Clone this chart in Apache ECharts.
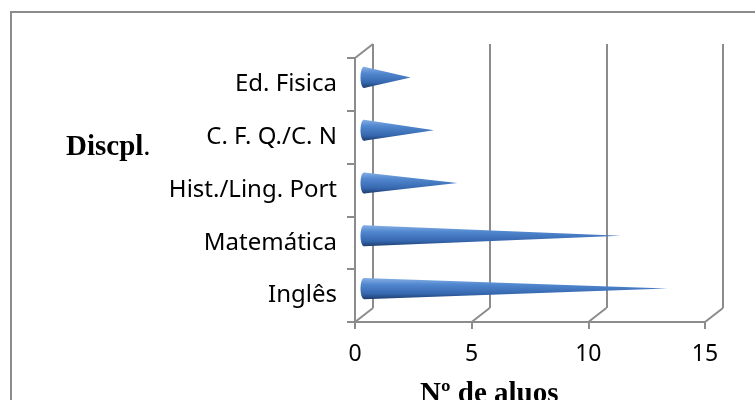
<!DOCTYPE html>
<html>
<head>
<meta charset="utf-8">
<script src="https://cdn.jsdelivr.net/npm/echarts@6/dist/echarts.min.js"></script>
<style>
  html, body { margin: 0; padding: 0; background: #fff; }
  #chart { width: 755px; height: 400px; }
</style>
</head>
<body>
<div id="chart"></div>
<script>
// disciplinas (de baixo para cima) e número de alunos
const disciplinas = ["Inglês", "Matemática", "Hist./Ling. Port", "C. F. Q./C. N", "Ed. Fisica"];
const alunos = [13, 11, 4, 3, 2];
const xTicks = [0, 5, 10, 15];

const axisGray = "#8c8c8c";
const depth = [18, -14]; // deslocamento da parede de trás

let myChart = echarts.init(document.getElementById("chart"));

// cone horizontal: base elíptica à esquerda, ponta à direita
function renderCone(params, api) {
  const idx = api.value(1);
  const base = api.coord([0, idx]);
  const tip = api.coord([api.value(0), idx]);
  const r = api.size([0, 1])[1] * 0.2;
  const bx = base[0] + depth[0] / 2;
  const cy = base[1] + depth[1] / 2;
  const tx = tip[0] + depth[0] / 2;
  const fill = new echarts.graphic.LinearGradient(0, 0, 0, 1, [
    { offset: 0, color: "#86afe4" },
    { offset: 0.3, color: "#5288d0" },
    { offset: 0.75, color: "#3567ae" },
    { offset: 1, color: "#1d3c6c" },
  ]);
  return {
    type: "group",
    children: [
      {
        type: "polygon",
        shape: { points: [[bx, cy - r], [tx, cy], [bx, cy + r]] },
        style: { fill: fill },
      },
      {
        type: "ellipse",
        shape: { cx: bx, cy: cy, rx: 3.5, ry: r },
        style: { fill: fill },
      },
    ],
  };
}

// linhas diagonais do "chão" e do canto superior esquerdo
function renderFloor(params, api) {
  const v = api.value(0);
  const cs = params.coordSys;
  const x = api.coord([v, 0])[0];
  const yb = cs.y + cs.height;
  const children = [
    {
      type: "line",
      shape: { x1: x, y1: yb, x2: x + depth[0], y2: yb + depth[1] },
      style: { stroke: axisGray, lineWidth: 2 },
    },
  ];
  if (v === 0) {
    children.push({
      type: "line",
      shape: { x1: x, y1: cs.y, x2: x + depth[0], y2: cs.y + depth[1] },
      style: { stroke: axisGray, lineWidth: 2 },
    });
  }
  return { type: "group", children: children };
}

myChart.setOption({
  animation: false,
  textStyle: { fontFamily: "Noto Sans" },
  grid: [
    { left: 355, top: 58, width: 350, height: 264 },
    { left: 373, top: 44, width: 350, height: 264 },
  ],
  xAxis: [
    {
      type: "value",
      gridIndex: 0,
      min: 0,
      max: 15,
      interval: 5,
      axisLine: { show: true, lineStyle: { color: axisGray, width: 2 } },
      axisTick: { show: true, length: 7, lineStyle: { color: axisGray, width: 2 } },
      splitLine: { show: false },
      axisLabel: { color: "#000", fontSize: 23, margin: 21 },
    },
    {
      type: "value",
      gridIndex: 1,
      min: 0,
      max: 15,
      interval: 5,
      axisLine: { show: false },
      axisTick: { show: false },
      axisLabel: { show: false },
      splitLine: { show: true, lineStyle: { color: axisGray, width: 2 } },
    },
  ],
  yAxis: [
    {
      type: "category",
      gridIndex: 0,
      data: disciplinas,
      axisLine: { show: true, lineStyle: { color: axisGray, width: 2 } },
      axisTick: { show: true, length: 8, lineStyle: { color: axisGray, width: 2 } },
      axisLabel: { color: "#000", fontSize: 24, margin: 18 },
    },
    {
      type: "category",
      gridIndex: 1,
      data: disciplinas,
      show: false,
    },
  ],
  graphic: [
    {
      type: "rect",
      shape: { x: 11, y: 12, width: 780, height: 420 },
      style: { fill: "none", stroke: axisGray, lineWidth: 2 },
      silent: true,
    },
    {
      type: "text",
      left: 66,
      top: 133,
      style: {
        text: "{b|Discpl}{n|.}",
        rich: {
          b: { font: "bold 29px 'Liberation Serif'", fill: "#000" },
          n: { font: "29px 'Liberation Serif'", fill: "#000" },
        },
      },
    },
    {
      type: "text",
      left: 420,
      top: 380,
      style: {
        text: "Nº de aluos",
        font: "bold 29px 'Liberation Serif'",
        fill: "#000",
      },
    },
  ],
  series: [
    {
      name: "chão",
      type: "custom",
      xAxisIndex: 0,
      yAxisIndex: 0,
      silent: true,
      z: 1,
      renderItem: renderFloor,
      data: xTicks.map((v) => [v, 0]),
    },
    {
      name: "Nº de alunos",
      type: "custom",
      xAxisIndex: 0,
      yAxisIndex: 0,
      z: 3,
      renderItem: renderCone,
      data: alunos.map((v, i) => [v, i]),
    },
  ],
});
</script>
</body>
</html>
